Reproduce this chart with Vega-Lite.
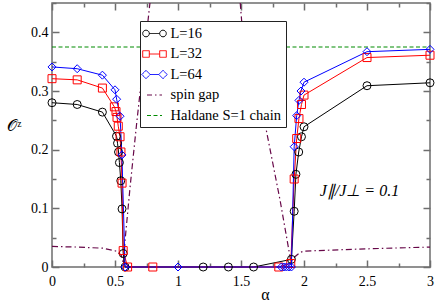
{
  "$schema": "https://vega.github.io/schema/vega-lite/v6.json",
  "width": 378,
  "height": 264,
  "autosize": {"type": "none"},
  "padding": {"left": 52, "top": 3, "right": 6, "bottom": 37},
  "background": "white",
  "config": {
    "view": {"stroke": "#6e6e6e", "strokeWidth": 1.5},
    "axis": {"labelFont": "Liberation Serif", "labelFontSize": 14, "labelColor": "black", "tickColor": "#6e6e6e", "tickWidth": 1.5, "domain": false, "grid": false, "titleFont": "Liberation Serif", "titleColor": "black", "titleFontWeight": "normal"},
    "text": {"font": "Liberation Serif"}
  },
  "datasets": {
    "obs": [
      {"x": 0, "y": 0.280, "series": "L=16"}, {"x": 0.2, "y": 0.277, "series": "L=16"}, {"x": 0.4, "y": 0.264, "series": "L=16"},
      {"x": 0.512, "y": 0.223, "series": "L=16"}, {"x": 0.52, "y": 0.211, "series": "L=16"}, {"x": 0.528, "y": 0.196, "series": "L=16"},
      {"x": 0.535, "y": 0.178, "series": "L=16"}, {"x": 0.546, "y": 0.147, "series": "L=16"}, {"x": 0.556, "y": 0.099, "series": "L=16"},
      {"x": 0.565, "y": 0.023, "series": "L=16"}, {"x": 0.58, "y": 0, "series": "L=16"}, {"x": 1.2, "y": 0, "series": "L=16"},
      {"x": 1.4, "y": 0, "series": "L=16"}, {"x": 1.6, "y": 0, "series": "L=16"}, {"x": 1.9, "y": 0.013, "series": "L=16"},
      {"x": 1.922, "y": 0.095, "series": "L=16"}, {"x": 1.936, "y": 0.158, "series": "L=16"}, {"x": 1.958, "y": 0.196, "series": "L=16"},
      {"x": 1.98, "y": 0.222, "series": "L=16"}, {"x": 2.0, "y": 0.239, "series": "L=16"}, {"x": 2.5, "y": 0.309, "series": "L=16"},
      {"x": 3.0, "y": 0.314, "series": "L=16"},
      {"x": 0, "y": 0.321, "series": "L=32"}, {"x": 0.2, "y": 0.319, "series": "L=32"}, {"x": 0.4, "y": 0.305, "series": "L=32"},
      {"x": 0.495, "y": 0.273, "series": "L=32"}, {"x": 0.508, "y": 0.265, "series": "L=32"}, {"x": 0.516, "y": 0.255, "series": "L=32"},
      {"x": 0.526, "y": 0.240, "series": "L=32"}, {"x": 0.54, "y": 0.222, "series": "L=32"}, {"x": 0.547, "y": 0.196, "series": "L=32"},
      {"x": 0.556, "y": 0.143, "series": "L=32"}, {"x": 0.565, "y": 0.028, "series": "L=32"}, {"x": 0.6, "y": 0, "series": "L=32"},
      {"x": 0.8, "y": 0, "series": "L=32"}, {"x": 1.8, "y": 0, "series": "L=32"}, {"x": 1.895, "y": 0.006, "series": "L=32"},
      {"x": 1.922, "y": 0.150, "series": "L=32"}, {"x": 1.942, "y": 0.219, "series": "L=32"}, {"x": 1.96, "y": 0.253, "series": "L=32"},
      {"x": 1.98, "y": 0.277, "series": "L=32"}, {"x": 2.0, "y": 0.293, "series": "L=32"}, {"x": 2.5, "y": 0.357, "series": "L=32"},
      {"x": 3.0, "y": 0.361, "series": "L=32"},
      {"x": 0, "y": 0.341, "series": "L=64"}, {"x": 0.2, "y": 0.338, "series": "L=64"}, {"x": 0.4, "y": 0.327, "series": "L=64"},
      {"x": 0.5, "y": 0.302, "series": "L=64"}, {"x": 0.513, "y": 0.286, "series": "L=64"}, {"x": 0.54, "y": 0.257, "series": "L=64"},
      {"x": 0.555, "y": 0.191, "series": "L=64"}, {"x": 0.58, "y": 0, "series": "L=64"}, {"x": 1.0, "y": 0, "series": "L=64"},
      {"x": 1.82, "y": 0, "series": "L=64"}, {"x": 1.84, "y": 0, "series": "L=64"}, {"x": 1.86, "y": 0, "series": "L=64"},
      {"x": 1.88, "y": 0, "series": "L=64"}, {"x": 1.9, "y": 0, "series": "L=64"}, {"x": 1.922, "y": 0.205, "series": "L=64"},
      {"x": 1.942, "y": 0.258, "series": "L=64"}, {"x": 1.96, "y": 0.284, "series": "L=64"}, {"x": 1.976, "y": 0.300, "series": "L=64"},
      {"x": 2.0, "y": 0.315, "series": "L=64"}, {"x": 2.5, "y": 0.367, "series": "L=64"}, {"x": 3.0, "y": 0.371, "series": "L=64"}
    ],
    "gap": [
      {"x": 0, "y": 0.035, "series": "spin gap"}, {"x": 0.2, "y": 0.034, "series": "spin gap"}, {"x": 0.407, "y": 0.032, "series": "spin gap"},
      {"x": 0.513, "y": 0.027, "series": "spin gap"}, {"x": 0.55, "y": 0.02, "series": "spin gap"}, {"x": 0.568, "y": 0.005, "series": "spin gap"},
      {"x": 0.58, "y": 0.046, "series": "spin gap"}, {"x": 0.62, "y": 0.137, "series": "spin gap"}, {"x": 0.672, "y": 0.245, "series": "spin gap"},
      {"x": 0.78, "y": 0.455, "series": "spin gap"}, {"x": 0.8, "y": 0.5, "series": "spin gap"},
      {"x": 1.47, "y": 0.5, "series": "spin gap"}, {"x": 1.492, "y": 0.455, "series": "spin gap"}, {"x": 1.505, "y": 0.42, "series": "spin gap"},
      {"x": 1.69, "y": 0.245, "series": "spin gap"}, {"x": 1.81, "y": 0.114, "series": "spin gap"}, {"x": 1.897, "y": 0.008, "series": "spin gap"},
      {"x": 1.93, "y": 0.018, "series": "spin gap"}, {"x": 1.97, "y": 0.025, "series": "spin gap"}, {"x": 2.0, "y": 0.027, "series": "spin gap"},
      {"x": 2.5, "y": 0.031, "series": "spin gap"}, {"x": 3.0, "y": 0.034, "series": "spin gap"}
    ],
    "hal": [
      {"x": 0, "y": 0.375, "series": "Haldane S=1 chain"}, {"x": 3, "y": 0.375, "series": "Haldane S=1 chain"}
    ],
    "note": [
      {"x": 2.44, "y": 0.13, "label": "J∥/J⊥ = 0.1"}
    ]
  },
  "resolve": {"axis": {"x": "independent", "y": "independent"}},
  "layer": [
    {
      "data": {"name": "hal"},
      "mark": {"type": "line", "strokeWidth": 1, "strokeDash": [4, 2.5]},
      "encoding": {
        "x": {"field": "x", "type": "quantitative", "scale": {"domain": [0, 3], "nice": false},
          "axis": {"orient": "bottom", "values": [0, 0.5, 1, 1.5, 2, 2.5, 3], "tickSize": -7, "labelPadding": 14, "labelExpr": "'' + datum.value", "labelFlush": false,
            "labelFont": "Liberation Serif", "labelFontSize": 14,
            "title": "α", "titleFont": "Liberation Serif", "titleFontSize": 16, "titleX": 213, "titleY": 32, "titleBaseline": "alphabetic", "titleAlign": "center"}},
        "y": {"field": "y", "type": "quantitative", "scale": {"domain": [0, 0.45], "nice": false, "zero": false},
          "axis": {"orient": "left", "values": [0, 0.1, 0.2, 0.3, 0.4], "tickSize": -7, "labelPadding": 11, "labelExpr": "'' + datum.value", "labelFlush": false,
            "labelFont": "Liberation Serif", "labelFontSize": 14,
            "title": "𝒪ᶻ", "titleFont": "Liberation Serif", "titleFontSize": 16, "titleAngle": 0, "titleX": -38, "titleY": 122, "titleAlign": "center", "titleBaseline": "middle"}},
        "color": {"field": "series", "type": "nominal",
          "scale": {"domain": ["L=16", "L=32", "L=64", "spin gap", "Haldane S=1 chain"], "range": ["#000000", "#ff0000", "#0000ff", "#670748", "#008b00"]},
          "legend": {"orient": "none", "legendX": 88, "legendY": 18, "title": null, "direction": "vertical",
            "strokeColor": "#222222", "fillColor": "white", "padding": 5, "symbolSize": 196, "symbolStrokeWidth": 1, "symbolOffset": 2,
            "labelFont": "Liberation Serif", "labelFontSize": 14.5, "labelColor": "black", "labelOffset": 8.5, "rowPadding": 5.5,
            "encode": {"symbols": {"update": {
              "shape": {"signal": "datum.value === 'L=16' ? 'M-1.685,0a0.471,0.471 0 1,0 0.942,0a0.471,0.471 0 1,0 -0.942,0M-0.743,0L0.743,0M0.743,0a0.471,0.471 0 1,0 0.942,0a0.471,0.471 0 1,0 -0.942,0' : datum.value === 'L=32' ? 'M-1.685,-0.471h0.942v0.942h-0.942zM-0.743,0L0.743,0M0.743,-0.471h0.942v0.942h-0.942z' : datum.value === 'L=64' ? 'M-1.814,0l0.6,-0.6l0.6,0.6l-0.6,0.6zM-0.614,0L0.614,0M0.614,0l0.6,-0.6l0.6,0.6l-0.6,0.6z' : datum.value === 'spin gap' ? 'M-1.07,0L1.07,0' : 'M-1.071,0L1.071,0'"},
              "strokeDash": {"signal": "datum.value === 'spin gap' ? [5, 3, 1.5, 3] : datum.value === 'Haldane S=1 chain' ? [4, 2.5] : [1, 0]"},
              "stroke": {"signal": "datum.value === 'L=16' ? '#000000' : datum.value === 'L=32' ? '#ff0000' : datum.value === 'L=64' ? '#0000ff' : datum.value === 'spin gap' ? '#670748' : '#008b00'"},
              "fill": {"signal": "indexof(datum.value, 'L=') === 0 ? 'white' : 'transparent'"},
              "fillOpacity": {"value": 1},
              "strokeWidth": {"value": 1},
              "opacity": {"value": 1}
            }}}
          }}
      }
    },
    {
      "data": {"name": "gap"},
      "mark": {"type": "line", "strokeWidth": 1.2, "strokeDash": [6, 3, 1.5, 3], "clip": true},
      "encoding": {
        "x": {"field": "x", "type": "quantitative", "sort": null,
          "axis": {"orient": "top", "values": [0, 0.5, 1, 1.5, 2, 2.5, 3], "tickSize": -7, "labels": false, "title": null}},
        "y": {"field": "y", "type": "quantitative",
          "axis": {"orient": "right", "values": [0, 0.1, 0.2, 0.3, 0.4], "tickSize": -7, "labels": false, "title": null}},
        "color": {"field": "series", "type": "nominal"}
      }
    },
    {
      "data": {"name": "obs"},
      "mark": {"type": "line", "strokeWidth": 1},
      "encoding": {
        "x": {"field": "x", "type": "quantitative",
          "axis": {"orient": "bottom", "values": [0.25, 0.75, 1.25, 1.75, 2.25, 2.75], "tickSize": -4, "labels": false, "title": null}},
        "y": {"field": "y", "type": "quantitative",
          "axis": {"orient": "left", "values": [0.05, 0.15, 0.25, 0.35, 0.45], "tickSize": -4, "labels": false, "title": null}},
        "color": {"field": "series", "type": "nominal"}
      }
    },
    {
      "data": {"name": "obs"},
      "mark": {"type": "point", "filled": false, "strokeWidth": 1, "size": 64, "opacity": 1},
      "encoding": {
        "x": {"field": "x", "type": "quantitative",
          "axis": {"orient": "top", "values": [0.25, 0.75, 1.25, 1.75, 2.25, 2.75], "tickSize": -4, "labels": false, "title": null}},
        "y": {"field": "y", "type": "quantitative",
          "axis": {"orient": "right", "values": [0.05, 0.15, 0.25, 0.35, 0.45], "tickSize": -4, "labels": false, "title": null}},
        "color": {"field": "series", "type": "nominal"},
        "shape": {"field": "series", "type": "nominal", "scale": {"domain": ["L=16", "L=32", "L=64"], "range": ["circle", "square", "diamond"]}, "legend": null}
      }
    },
    {
      "data": {"name": "note"},
      "mark": {"type": "text", "font": "Liberation Serif", "fontStyle": "italic", "fontSize": 16, "align": "center", "baseline": "middle", "color": "black"},
      "encoding": {
        "x": {"field": "x", "type": "quantitative", "axis": null},
        "y": {"field": "y", "type": "quantitative", "axis": null},
        "text": {"field": "label"}
      }
    }
  ]
}
